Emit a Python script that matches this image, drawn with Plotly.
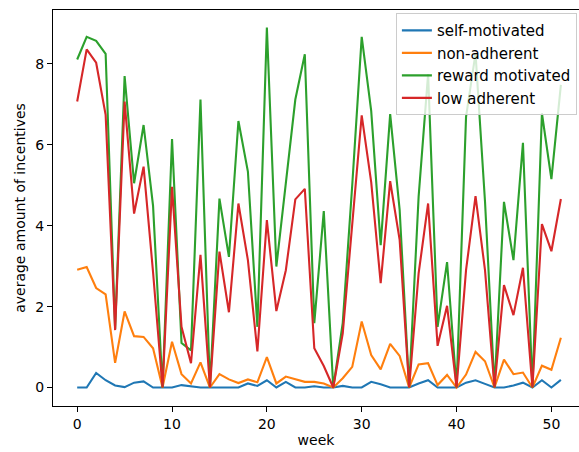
import plotly.graph_objects as go

weeks = list(range(52))

self_motivated = [0, 0, 0.36, 0.18, 0.05, 0.01, 0.12, 0.15, 0, 0,
                  0, 0.06, 0.03, 0, 0, 0, 0, 0, 0.10, 0.04,
                  0.18, 0, 0.14, 0, 0, 0.03, 0, 0, 0.04, 0,
                  0, 0.14, 0.08, 0, 0, 0, 0.10, 0.18, 0, 0,
                  0, 0.12, 0.18, 0.09, 0, 0, 0.05, 0.12, 0, 0.18,
                  0, 0.19]

non_adherent = [2.91, 2.98, 2.46, 2.30, 0.61, 1.88, 1.27, 1.25, 0.97, 0,
                1.13, 0.33, 0.10, 0.62, 0, 0.33, 0.20, 0.11, 0.20, 0.13,
                0.75, 0.10, 0.27, 0.20, 0.14, 0.14, 0.10, 0, 0.23, 0.51,
                1.63, 0.80, 0.45, 1.08, 0.78, 0, 0.57, 0.60, 0.06, 0.31,
                0, 0.32, 0.88, 0.65, 0, 0.69, 0.33, 0.37, 0, 0.54,
                0.44, 1.23]

reward_motivated = [8.11, 8.67, 8.57, 8.25, 1.45, 7.70, 5.05, 6.49, 4.49, 0,
                    6.14, 1.10, 0.92, 7.12, 0, 4.67, 3.23, 6.59, 5.34, 1.50,
                    8.90, 2.99, 5.05, 7.12, 8.24, 1.59, 4.36, 0, 1.60, 5.00,
                    8.67, 6.84, 3.52, 6.76, 4.39, 0, 4.72, 7.75, 1.50, 3.10,
                    0, 6.69, 8.26, 4.60, 0, 4.59, 3.15, 6.05, 0, 6.78,
                    5.15, 7.48]

low_adherent = [7.07, 8.36, 8.03, 6.74, 1.42, 7.07, 4.30, 5.46, 2.85, 0,
                4.96, 1.50, 0.60, 3.28, 0, 3.36, 1.86, 4.55, 3.15, 0.89,
                4.14, 1.89, 2.90, 4.65, 4.91, 0.97, 0.53, 0, 1.34, 4.05,
                6.73, 5.08, 2.58, 5.10, 3.65, 0, 2.82, 4.55, 1.03, 2.02,
                0, 2.90, 4.73, 2.90, 0, 2.53, 1.79, 2.96, 0, 4.04,
                3.37, 4.66]

series = [
    ("self-motivated", self_motivated, "#1f77b4"),
    ("non-adherent", non_adherent, "#ff7f0e"),
    ("reward motivated", reward_motivated, "#2ca02c"),
    ("low adherent", low_adherent, "#d62728"),
]

x_ticks = [0, 10, 20, 30, 40, 50]
y_ticks = [0, 2, 4, 6, 8]

fig = go.Figure()
for name, vals, color in series:
    fig.add_trace(go.Scatter(x=weeks, y=vals, mode="lines", name=name,
                             line=dict(color=color, width=2.1)))

font = "DejaVu Sans"
fig.update_layout(
    width=579, height=452,
    margin=dict(l=53, r=0, t=10, b=46),
    paper_bgcolor="white", plot_bgcolor="white",
    font=dict(family=font, size=14, color="#000000"),
    showlegend=True,
    legend=dict(x=0.996, y=0.992, xanchor="right", yanchor="top",
                bgcolor="rgba(255,255,255,0.8)", bordercolor="#cccccc",
                borderwidth=1, font=dict(family=font, size=15, color="#000000")),
)
fig.update_xaxes(range=[-2.55, 52.91], tickvals=x_ticks, showgrid=False,
                 zeroline=False, showline=True, linecolor="#000000", linewidth=1.1,
                 mirror=True, ticks="outside", ticklen=5, tickwidth=1.1,
                 tickcolor="#000000",
                 title=dict(text="week", font=dict(family=font, size=14), standoff=4))
fig.update_yaxes(range=[-0.457, 9.333], tickvals=y_ticks, showgrid=False,
                 zeroline=False, showline=True, linecolor="#000000", linewidth=1.1,
                 ticks="outside", ticklen=5, tickwidth=1.1, tickcolor="#000000",
                 title=dict(text="average amount of incentives",
                            font=dict(family=font, size=14), standoff=6))

fig.write_html("out.html")
